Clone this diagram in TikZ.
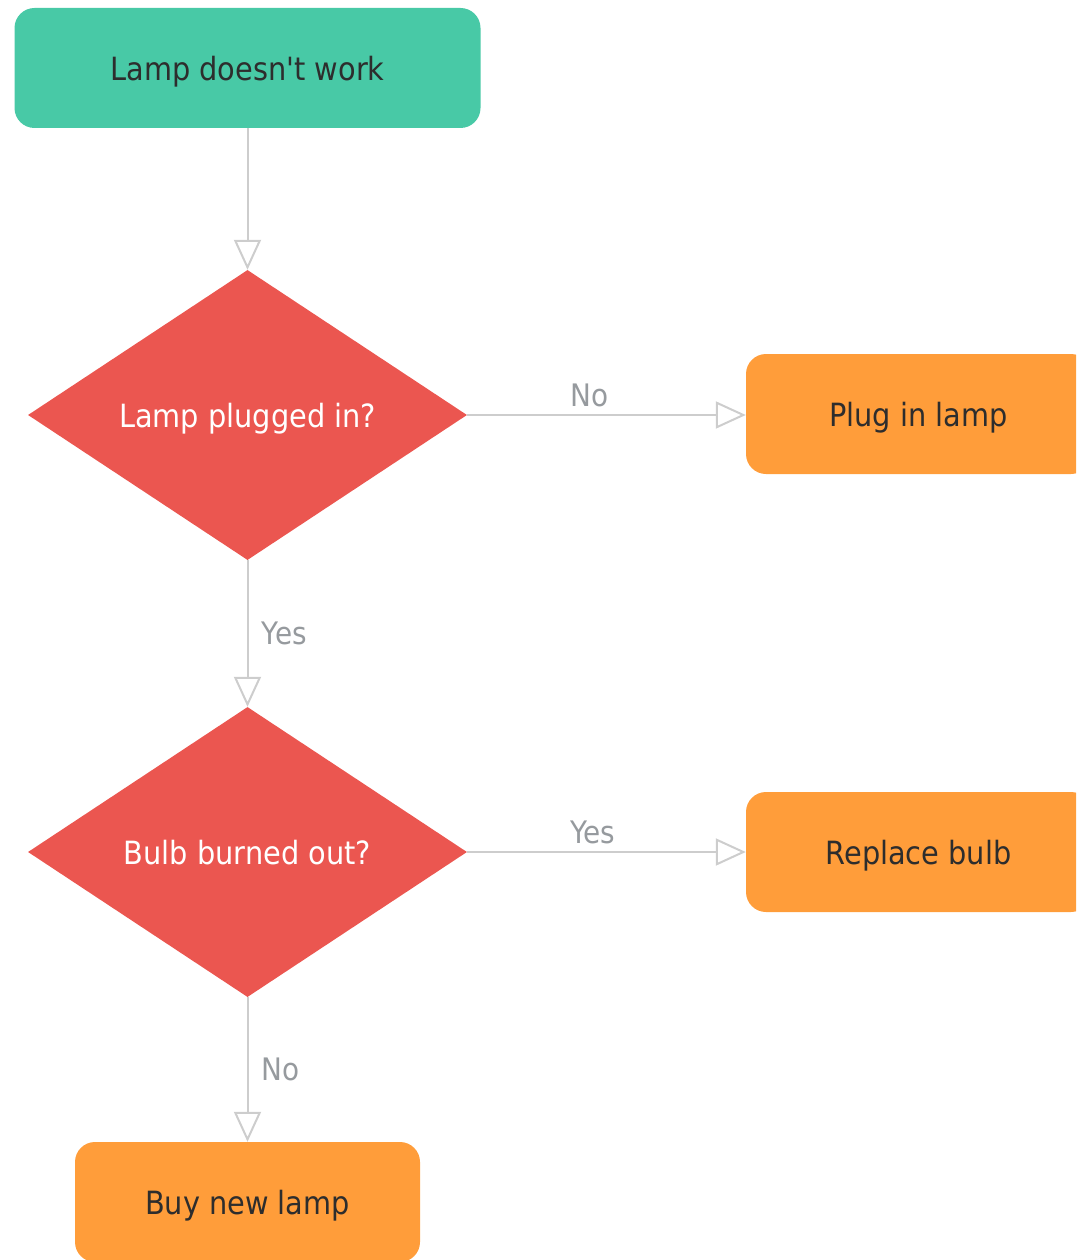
\documentclass[tikz,border=0pt]{standalone}
\usepackage{fontspec}
\setmainfont{DejaVu Sans}[FakeStretch=0.9,Ligatures=TeXOff]
\usetikzlibrary{shapes.geometric,arrows.meta}
\definecolor{startgreen}{RGB}{72,201,166}
\definecolor{askred}{RGB}{235,86,80}
\definecolor{doorange}{RGB}{255,157,58}
\definecolor{linegray}{RGB}{205,205,205}
\definecolor{labelgray}{RGB}{150,154,158}
\definecolor{textdark}{RGB}{45,45,45}
\tikzset{
  startbox/.style={rectangle,rounded corners=20pt,fill=startgreen,text=textdark,text depth=0pt,
    minimum width=466pt,minimum height=120pt,inner sep=0pt,font=\fontsize{32}{38}\selectfont},
  askbox/.style={diamond,fill=askred,text=white,shape aspect=1.5,inner sep=0pt,text depth=0pt,
    minimum width=439pt,minimum height=290pt,font=\fontsize{32}{38}\selectfont},
  dobox/.style={rectangle,rounded corners=20pt,fill=doorange,text=textdark,text depth=0pt,
    minimum width=345pt,minimum height=120pt,inner sep=0pt,font=\fontsize{32}{38}\selectfont},
  flow/.style={draw=linegray,line width=2pt,
    -{Triangle[open,length=30pt,width=27pt,line width=2pt]}},
  answer/.style={text=labelgray,font=\fontsize{31}{36}\selectfont}
}
\begin{document}
\begin{tikzpicture}[x=1pt,y=-1pt]
	\useasboundingbox (0,0) rectangle (1076,1260);
	\clip (0,0) rectangle (1076,1260);
	\node[startbox] (start) at (247.5,68) {Lamp doesn't work};
	\node[askbox] (plugged) at (247.5,415) {Lamp plugged in?};
	\node[askbox] (burned) at (247.5,852) {Bulb burned out?};
	\node[dobox] (plugin) at (918.5,414) {Plug in lamp};
	\node[dobox] (replace) at (918.5,852) {Replace bulb};
	\node[dobox] (buynew) at (247.5,1202) {Buy new lamp};
	% connectors
	\draw[flow] (start.south)--(plugged.north);
	\draw[flow] (plugged.east)--(plugged.east-|plugin.west)node[answer,pos=0.44,above=4pt]{No};
	\draw[flow] (plugged.south)--(burned.north)node[answer,midway,right=10pt]{Yes};
	\draw[flow] (burned.east)--(burned.east-|replace.west)node[answer,pos=0.45,above=4pt]{Yes};
	\draw[flow] (burned.south)--(buynew.north)node[answer,midway,right=10pt]{No};
\end{tikzpicture}
\end{document}
